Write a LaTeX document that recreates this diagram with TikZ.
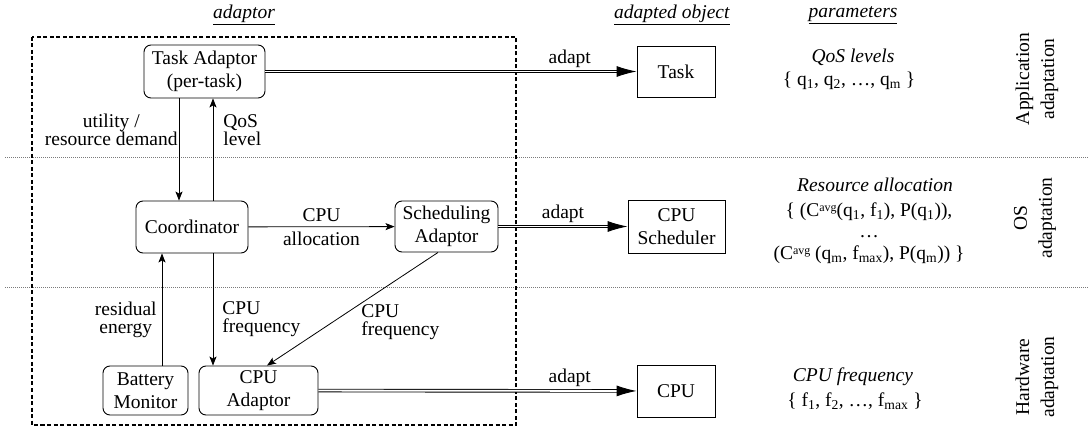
\documentclass[tikz,border=0pt]{standalone}
\usepackage{fontspec}
\setmainfont{Liberation Serif}
\usetikzlibrary{arrows.meta,positioning,calc}
\definecolor{tinta}{HTML}{000000}
\definecolor{punteado}{HTML}{7A7A7A}
\newcommand{\encabezado}[1]{\underline{\textit{#1}}}
\newcommand{\sub}[1]{\textsubscript{#1}}
\newcommand{\avg}{\raisebox{0.55ex}{\fontsize{12}{12}\selectfont avg}}

\begin{document}
\begin{tikzpicture}[x=1pt,y=-1pt,
    font=\rmfamily\fontsize{19.5}{18}\selectfont,
    caja/.style={draw=tinta,line width=0.9pt,rounded corners=7pt,align=center,inner sep=1pt,font=\rmfamily\fontsize{19.5}{23}\selectfont},
    objeto/.style={draw=tinta,line width=0.9pt,align=center,inner sep=1pt,font=\rmfamily\fontsize{19.5}{23}\selectfont},
    flecha/.style={tinta,line width=0.8pt,-{Stealth[length=9pt,width=7pt,inset=2pt]}},
    adapta/.style={tinta,double,double distance=1.8pt,line width=0.9pt,-{Latex[length=20pt,width=11pt]}},
    capa/.style={punteado,line width=0.6pt,dash pattern=on 1pt off 1pt},
    param/.style={inner sep=0pt}]
  \useasboundingbox (0,0) rectangle (1089,427);
  % capas
  \draw[capa] (5,157) -- (1089,157);
  \draw[capa] (5,287) -- (1089,287);
  \draw[tinta,line width=1.3pt,dash pattern=on 4pt off 2.5pt] (32,37) rectangle (516,425);
  % encabezados
  \node (hadap) at (244,15) {\encabezado{adaptor}};
  \node (hobj) at (672,15) {\encabezado{adapted object}};
  \node (hpar) at (853,15) {\encabezado{parameters}};
  % adaptadores
  \node[caja,minimum width=121pt,minimum height=53pt] (tadapt) at (204.5,71.5) {Task Adaptor\\(per-task)};
  \node[caja,minimum width=112pt,minimum height=52pt] (coord) at (192,227) {Coordinator};
  \node[caja,minimum width=103pt,minimum height=51pt] (sadapt) at (446.5,226.5) {Scheduling\\Adaptor};
  \node[caja,minimum width=85pt,minimum height=49pt] (battery) at (145.5,390.5) {Battery\\Monitor};
  \node[caja,minimum width=119pt,minimum height=49pt] (cpuadapt) at (258.5,390.5) {CPU\\Adaptor};
  % objetos adaptados
  \node[objeto,minimum width=78pt,minimum height=51pt] (task) at (676,71.5) {Task};
  \node[objeto,minimum width=97pt,minimum height=53pt] (sched) at (676.5,226.5) {CPU\\Scheduler};
  \node[objeto,minimum width=78pt,minimum height=52pt] (cpu) at (676,391) {CPU};
  % flujos internos
  \draw[flecha] ([xshift=-25.5pt]tadapt.south) -- ([xshift=-25.5pt]tadapt.south |- coord.north)
    node[pos=0.31,anchor=east,align=center,inner sep=1pt] (lutil) {utility /\\resource demand};
  \draw[flecha] ([xshift=21pt]coord.north) -- ([xshift=21pt]coord.north |- tadapt.south)
    node[pos=0.69,anchor=west,align=left,inner sep=1pt,xshift=9pt] (lqos) {QoS\\level};
  \draw[flecha] (coord) -- (sadapt)
    node[midway,above=1pt] (lcpu) {CPU} node[midway,below=1pt] (lalloc) {allocation};
  \draw[flecha] ([xshift=16.5pt]battery.north) -- ([xshift=16.5pt]battery.north |- coord.south)
    node[pos=0.41,anchor=east,align=center,inner sep=1pt,xshift=-4pt] (lres) {residual\\energy};
  \draw[flecha] ([xshift=21pt]coord.south) -- ([xshift=21pt]coord.south |- cpuadapt.north)
    node[pos=0.59,anchor=west,align=left,inner sep=1pt,xshift=8pt] (lfreqa) {CPU\\frequency};
  \draw[flecha] ([xshift=-8.5pt]sadapt.south) -- ([xshift=8.5pt]cpuadapt.north)
    node[pos=0.62,anchor=west,align=left,inner sep=1pt,xshift=28pt] (lfreqb) {CPU\\frequency};
  % adaptacion
  \draw[adapta] (tadapt) -- (task) node[pos=0.82,above=0pt] (ladapta) {adapt};
  \draw[adapta] (sadapt) -- (sched) node[midway,above=0pt] (ladaptb) {adapt};
  \draw[adapta] (cpuadapt) -- (cpu) node[pos=0.79,above=0pt] (ladaptc) {adapt};
  % parametros
  \node[param] (qos) at (853,57) {\textit{QoS levels}};
  \node[param] (qset) at (849,81) {\{ q\sub{1}, q\sub{2}, \ldots, q\sub{m} \}};
  \node[param] (ralloc) at (875,185) {\textit{Resource allocation}};
  \node[param,align=center,font=\rmfamily\fontsize{19.5}{21.5}\selectfont] (rset) at (869,233)
    {\{ (C\avg(q\sub{1}, f\sub{1}), P(q\sub{1})),\\
     \ldots\\
     (C\avg{} (q\sub{m}, f\sub{max}), P(q\sub{m})) \}};
  \node[param] (cfreq) at (853,377) {\textit{CPU frequency}};
  \node[param] (fset) at (855,401) {\{ f\sub{1}, f\sub{2}, \ldots, f\sub{max} \}};
  % niveles
  \node[rotate=90,align=center,font=\rmfamily\fontsize{19.5}{25}\selectfont] (napp) at (1037,79) {Application\\adaptation};
  \node[rotate=90,align=center,font=\rmfamily\fontsize{19.5}{25}\selectfont] (nos) at (1035,218) {OS\\adaptation};
  \node[rotate=90,align=center,font=\rmfamily\fontsize{19.5}{25}\selectfont] (nhw) at (1037,377) {Hardware\\adaptation};
\end{tikzpicture}
\end{document}
